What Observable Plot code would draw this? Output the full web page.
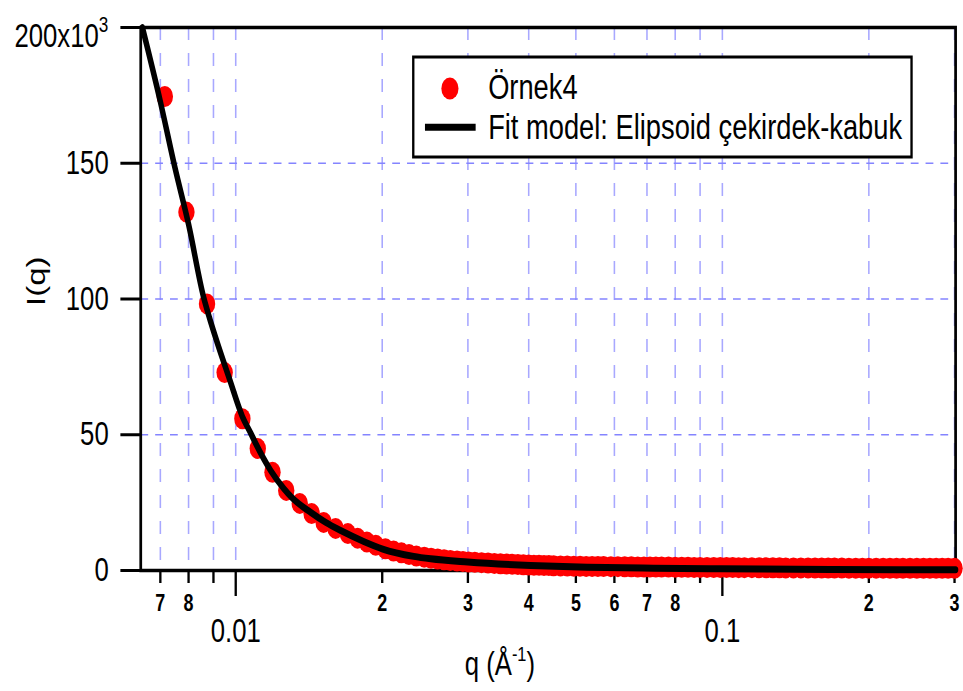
<!DOCTYPE html>
<html>
<head>
<meta charset="utf-8">
<script src="https://cdn.jsdelivr.net/npm/d3@7"></script>
<script src="https://cdn.jsdelivr.net/npm/@observablehq/plot@0.6"></script>
<style>
  body { margin: 0; background: #fff; }
  #chart { width: 963px; height: 691px; overflow: hidden; }
</style>
</head>
<body>
<div id="chart"></div>
<script>
// ---- data ----
const qData = [0.00715, 0.00792, 0.00873, 0.00949, 0.01032, 0.0111, 0.0119, 0.0127, 0.01354, 0.01432,
  0.01516, 0.01604, 0.0170, 0.0178, 0.0186, 0.0194, 0.0203, 0.0211, 0.0219, 0.0227,
  0.0235, 0.0244, 0.0252, 0.0260, 0.0268, 0.0276, 0.0285, 0.0293, 0.0301, 0.031,
  0.032, 0.033, 0.034, 0.035, 0.036, 0.037, 0.038, 0.039, 0.040, 0.041,
  0.042, 0.043, 0.044, 0.045, 0.0465, 0.048, 0.0495, 0.051, 0.0525, 0.054,
  0.0555, 0.057, 0.059, 0.061, 0.063, 0.065, 0.067, 0.069, 0.071, 0.073,
  0.075, 0.0775, 0.08, 0.0825, 0.085, 0.0875, 0.09, 0.093, 0.096, 0.099,
  0.102, 0.105, 0.108, 0.111, 0.115, 0.119, 0.123, 0.127, 0.131, 0.135,
  0.14, 0.145, 0.15, 0.155, 0.16, 0.165, 0.17, 0.176, 0.182, 0.188,
  0.194, 0.2, 0.207, 0.214, 0.221, 0.228, 0.235, 0.243, 0.251, 0.259,
  0.267, 0.275, 0.283, 0.291, 0.3];
const iData = [174600, 132000, 98200, 72900, 55900, 44900, 36200, 29500, 24700, 21000,
  17700, 15500, 13600, 11900, 10500, 9300, 8000, 7200, 6500, 5900,
  5300, 4900, 4500, 4200, 3950, 3700, 3500, 3300, 3150, 3000,
  2900, 2750, 2600, 2500, 2400, 2300, 2200, 2100, 2000, 1950,
  1900, 1850, 1800, 1750, 1700, 1650, 1600, 1550, 1500, 1500,
  1450, 1450, 1400, 1400, 1350, 1350, 1300, 1300, 1300, 1250,
  1250, 1250, 1200, 1200, 1200, 1150, 1150, 1150, 1100, 1100,
  1100, 1100, 1050, 1050, 1050, 1000, 1000, 1000, 1000, 950,
  950, 950, 950, 900, 900, 900, 900, 900, 850, 850,
  850, 850, 850, 850, 800, 800, 800, 800, 800, 800,
  800, 800, 800, 800, 800];
const qFit = [0.00643, 0.0070, 0.0075, 0.0080, 0.0086, 0.0088, 0.00973, 0.01032, 0.01074, 0.01099,
  0.0118, 0.01255, 0.0131, 0.01426, 0.01531, 0.01643, 0.01832, 0.02005, 0.02322, 0.02516,
  0.02997, 0.04037, 0.05288, 0.07225, 0.0992, 0.1669, 0.3015];
const iFit = [200000, 172700, 148400, 127500, 100300, 94000, 70000, 56700, 50500, 46800,
  36800, 30200, 26500, 21400, 17700, 14700, 10700, 7900, 5200, 4300,
  3130, 1840, 1200, 850, 630, 370, 260];

const xMinorTicks = [0.007, 0.008, 0.009, 0.02, 0.03, 0.04, 0.05, 0.06, 0.07, 0.08, 0.09, 0.2, 0.3];
const xMinorLabels = ["7", "8", "9", "2", "3", "4", "5", "6", "7", "8", "9", "2", "3"];
const xMajorTicks = [0.01, 0.1];
const xMajorLabels = ["0.01", "0.1"];
const yTicks = [0, 50000, 100000, 150000, 200000];
const yTickLabels = ["0", "50", "100", "150", "200x10"];
const yTopExponent = "3";
const yGrid = [50000, 100000, 150000];
const seriesNames = ["Örnek4", "Fit model: Elipsoid çekirdek-kabuk"];
const xLabelParts = ["q (Å", "-1", ")"];
const yLabel = "I(q)";

// ---- layout ----
const SX = 0.78;                 // the original figure is squeezed horizontally
const W = Math.round(963 / SX), H = 691;
const FONT = "'Liberation Sans', Arial, Helvetica, sans-serif";
const ML = 180, MR = 10, MT = 27, MB = 121;
const Y_TICK = 25.6, Y_PAD = 15.5;

const points = qData.map((q, i) => ({q, I: iData[i]}));
const fit = qFit.map((q, i) => ({q, I: iFit[i]}));
const minorFmt = new Map(xMinorTicks.map((t, i) => [t, xMinorLabels[i]]));
const majorFmt = new Map(xMajorTicks.map((t, i) => [t, xMajorLabels[i]]));
const yFmt = new Map(yTicks.map((t, i) => [t, yTickLabels[i]]));

const plot = Plot.plot({
  width: W, height: H,
  marginTop: MT, marginBottom: MB, marginLeft: ML, marginRight: MR,
  style: {fontFamily: FONT, background: "white", color: "black"},
  x: {type: "log", domain: [0.00638, 0.3015], label: null, axis: null},
  y: {domain: [0, 200000], label: null, axis: null},
  marks: [
    Plot.ruleX([...xMinorTicks, ...xMajorTicks], {stroke: "#a8a8ff", strokeWidth: 2, strokeDasharray: "13,13"}),
    Plot.ruleY(yGrid, {stroke: "#8484ff", strokeWidth: 1.5, strokeDasharray: "10,9"}),
    Plot.axisX(xMinorTicks, {anchor: "bottom", tickSize: 13, tickPadding: 11.3, strokeWidth: 3,
      tickFormat: d => minorFmt.get(d), fontSize: 23, fontWeight: "bold", label: null}),
    Plot.axisX(xMajorTicks, {anchor: "bottom", tickSize: 26, tickPadding: 22.3, strokeWidth: 3,
      tickFormat: d => majorFmt.get(d), fontSize: 33, label: null}),
    Plot.axisY(yTicks, {anchor: "left", tickSize: Y_TICK, tickPadding: Y_PAD, strokeWidth: 3,
      tickFormat: d => d === 200000 ? "" : yFmt.get(d), fontSize: 33, label: null}),
    Plot.frame({stroke: "black", strokeWidth: 3.5}),
    Plot.text([yLabel], {frameAnchor: "left", dx: -134, dy: 7, rotate: -90, fontSize: 33}),
    Plot.dot(points, {x: "q", y: "I", r: 10.5, fill: "#ff0000", stroke: "none"}),
    Plot.line(fit, {x: "q", y: "I", stroke: "black", strokeWidth: 7, curve: "monotone-x"})
  ]
});

// stretch the drawing back to the squeezed proportions of the original
plot.setAttribute("width", 963);
plot.setAttribute("height", H);
plot.setAttribute("preserveAspectRatio", "none");
plot.setAttribute("style", `display:block;width:963px;height:${H}px;max-width:none;background:white;font-family:${FONT};`);

const svg = d3.select(plot);
const ys = plot.scale("y");

// top y tick label with superscript exponent
const topT = svg.append("text")
  .attr("x", ML - Y_TICK - Y_PAD).attr("y", ys.apply(200000) + 20.5)
  .attr("text-anchor", "end").attr("font-size", 33).attr("fill", "black");
topT.append("tspan").text(yFmt.get(200000));
topT.append("tspan").attr("dy", -15).attr("font-size", 22).text(yTopExponent);

// x axis title with superscript
const xt = svg.append("text").attr("x", 596).attr("y", 675).attr("font-size", 33)
  .attr("text-anchor", "start").attr("fill", "black");
xt.append("tspan").text(xLabelParts[0]);
xt.append("tspan").attr("dy", -14).attr("font-size", 21).text(xLabelParts[1]);
xt.append("tspan").attr("dy", 14).text(xLabelParts[2]);

// legend
const lg = svg.append("g").attr("font-size", 35).attr("fill", "black").attr("text-anchor", "start");
lg.append("rect").attr("x", 530).attr("y", 57).attr("width", 639).attr("height", 100)
  .attr("fill", "white").attr("stroke", "black").attr("stroke-width", 3);
lg.append("circle").attr("cx", 577).attr("cy", 88.5).attr("r", 11).attr("fill", "#ff0000");
lg.append("text").attr("x", 626).attr("y", 99.5).attr("text-anchor", "start").text(seriesNames[0]);
lg.append("line").attr("x1", 545).attr("x2", 610).attr("y1", 127.3).attr("y2", 127.3)
  .attr("stroke", "black").attr("stroke-width", 7);
lg.append("text").attr("x", 626).attr("y", 139.5).attr("text-anchor", "start").text(seriesNames[1]);

document.getElementById("chart").appendChild(plot);
</script>
</body>
</html>
